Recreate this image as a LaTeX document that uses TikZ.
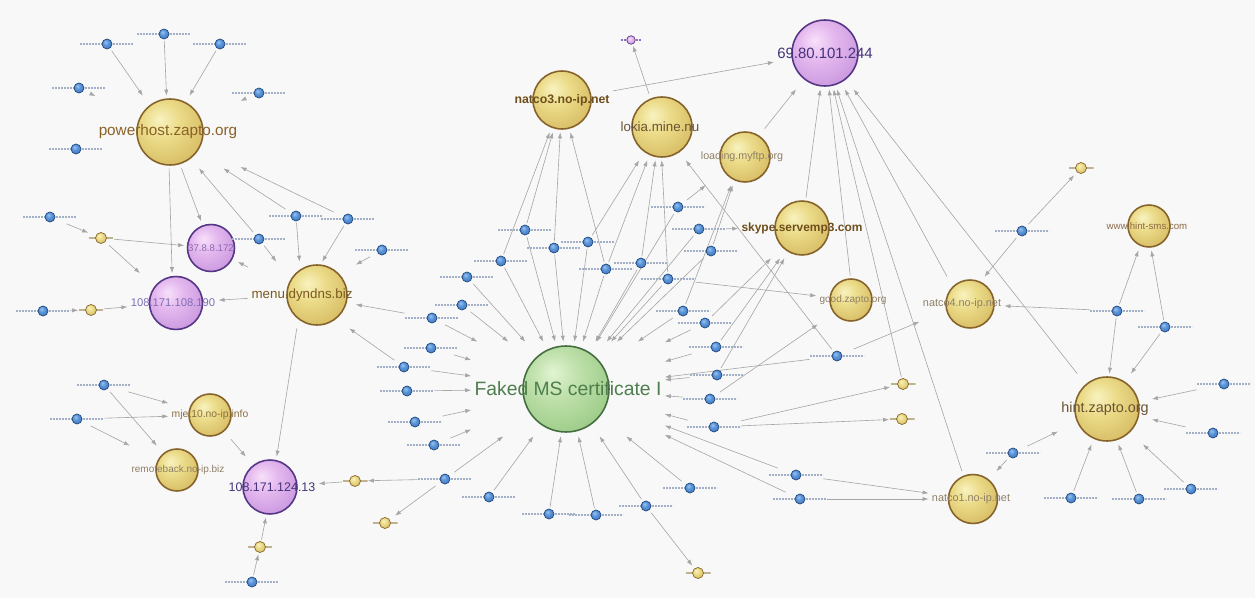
\documentclass[tikz,border=0pt]{standalone}
\usepackage{fontspec}
\setmainfont{Liberation Sans}
\usetikzlibrary{arrows.meta}

% colours
\definecolor{paper}{HTML}{F8F8F8}
\definecolor{edgegray}{HTML}{A6A6A6}
\definecolor{hostA}{HTML}{F8F2C0}
\definecolor{hostB}{HTML}{EBDB88}
\definecolor{hostC}{HTML}{D6BA62}
\definecolor{hostD}{HTML}{B8933E}
\definecolor{hostrim}{HTML}{86632A}
\definecolor{lilacA}{HTML}{F8E0FA}
\definecolor{lilacB}{HTML}{E4B8EE}
\definecolor{lilacC}{HTML}{C896DE}
\definecolor{lilacD}{HTML}{9E6CC2}
\definecolor{lilacrim}{HTML}{553686}
\definecolor{leafA}{HTML}{E2F4D2}
\definecolor{leafB}{HTML}{BEE0AA}
\definecolor{leafC}{HTML}{9ACA86}
\definecolor{leafD}{HTML}{70A25E}
\definecolor{leafrim}{HTML}{456E40}
\definecolor{skyA}{HTML}{9CC4F0}
\definecolor{skyB}{HTML}{5A94D8}
\definecolor{skyC}{HTML}{3C74BC}
\definecolor{skyD}{HTML}{2C5C9E}
\definecolor{skyrim}{HTML}{22497E}
\definecolor{tagblue}{HTML}{A4B0C8}
\definecolor{tagsand}{HTML}{C0B290}
\definecolor{tpower}{HTML}{8A6226}
\definecolor{tmenu}{HTML}{7A5A1E}
\definecolor{tdark}{HTML}{6E4E1C}
\definecolor{tlokia}{HTML}{6A5232}
\definecolor{tmjet}{HTML}{8A7040}
\definecolor{tpale}{HTML}{8F8068}
\definecolor{tsms}{HTML}{8C6A48}
\definecolor{tlilac}{HTML}{8A6AB0}
\definecolor{tlilacL}{HTML}{7F6FB5}
\definecolor{tlilacD}{HTML}{45337A}
\definecolor{tcert}{HTML}{4E7E4E}

\pgfdeclareradialshading{hostshade}{\pgfpoint{-8bp}{10bp}}{color(0bp)=(hostA); color(14bp)=(hostB); color(34bp)=(hostC); color(52bp)=(hostD); color(70bp)=(hostD)}
\pgfdeclareradialshading{lilacshade}{\pgfpoint{-8bp}{10bp}}{color(0bp)=(lilacA); color(14bp)=(lilacB); color(34bp)=(lilacC); color(52bp)=(lilacD); color(70bp)=(lilacD)}
\pgfdeclareradialshading{leafshade}{\pgfpoint{-8bp}{10bp}}{color(0bp)=(leafA); color(14bp)=(leafB); color(34bp)=(leafC); color(52bp)=(leafD); color(70bp)=(leafD)}
\pgfdeclareradialshading{skyshade}{\pgfpoint{-8bp}{10bp}}{color(0bp)=(skyA); color(14bp)=(skyB); color(34bp)=(skyC); color(52bp)=(skyD); color(70bp)=(skyD)}

\pgfdeclarelayer{background}
\pgfdeclarelayer{edges}
\pgfsetlayers{background,edges,main}

\newcommand{\fsz}[1]{\fontsize{#1}{#1}\selectfont}

\begin{document}
\begin{tikzpicture}[x=0.02cm, y=-0.02cm,
  link/.style={draw=edgegray, line width=0.35pt, -{Latex[length=3.4pt, width=2.4pt]}},
  hostball/.style={circle, inner sep=0pt, shading=hostshade, draw=hostrim, line width=0.9pt},
  ipball/.style={circle, inner sep=0pt, shading=lilacshade, draw=lilacrim, line width=0.9pt},
  certball/.style={circle, inner sep=0pt, shading=leafshade, draw=leafrim, line width=0.9pt},
  vbox/.style={rectangle, inner sep=0.06cm, minimum width=#1, minimum height=#1},
  tagline/.style={line width=0.75pt, dash pattern=on 1.2pt off 0.5pt},
  dotbox/.style={rectangle, inner sep=0pt, minimum width=1.08cm, minimum height=0.26cm,
    path picture={
      \draw[tagline, draw=tagblue] (path picture bounding box.west) -- (path picture bounding box.east);
      \shade[shading=skyshade, draw=skyrim, line width=0.4pt] (path picture bounding box.center) circle (0.1cm);
    }},
  sandbox/.style={rectangle, inner sep=0pt, minimum width=0.5cm, minimum height=0.28cm,
    path picture={
      \draw[tagline, draw=tagsand] (path picture bounding box.west) -- (path picture bounding box.east);
      \shade[shading=hostshade, draw=hostrim, line width=0.4pt] (path picture bounding box.center) circle (0.11cm);
    }},
  lilacbox/.style={rectangle, inner sep=0pt, minimum width=0.4cm, minimum height=0.22cm,
    path picture={
      \draw[tagline, draw=lilacD] (path picture bounding box.west) -- (path picture bounding box.east);
      \shade[shading=lilacshade, draw=lilacrim, line width=0.4pt] (path picture bounding box.center) circle (0.085cm);
    }}
  ]

  \begin{pgfonlayer}{background}
    \fill[paper] (0,0) rectangle (1255,598);
  \end{pgfonlayer}
  \useasboundingbox (0,0) rectangle (1255,598);

  % large vertices
  \node[hostball, minimum size=1.32cm,
    label={[vbox=1.44cm, name=powerhost, text=tpower, font=\fsz{8.7}, xshift=-0.04cm]center:powerhost.zapto.org}]
    (powerhost-ball) at (170,132) {};
  \node[ipball, minimum size=0.94cm,
    label={[vbox=1.06cm, name=ipA, text=tlilac, font=\fsz{5.5}]center:37.8.8.172}]
    (ipA-ball) at (211,248) {};
  \node[ipball, minimum size=1.06cm,
    label={[vbox=1.18cm, name=ipB, text=tlilacL, font=\fsz{6.4}, xshift=-0.06cm]center:108.171.108.190}]
    (ipB-ball) at (176,303) {};
  \node[hostball, minimum size=1.2cm,
    label={[vbox=1.32cm, name=menu, text=tmenu, font=\fsz{7.6}, xshift=-0.3cm]center:menu.dyndns.biz}]
    (menu-ball) at (317,295) {};
  \node[hostball, minimum size=0.84cm,
    label={[vbox=0.96cm, name=mjet, text=tmjet, font=\fsz{5.9}]center:mjet10.no-ip.info}]
    (mjet-ball) at (210,415) {};
  \node[hostball, minimum size=0.84cm,
    label={[vbox=0.96cm, name=remoteback, text=tpale, font=\fsz{5.7}, xshift=0.02cm]center:remoteback.no-ip.biz}]
    (remoteback-ball) at (177,470) {};
  \node[ipball, minimum size=1.08cm,
    label={[vbox=1.2cm, name=ipC, text=tlilacD, font=\fsz{7.1}, xshift=0.04cm]center:108.171.124.13}]
    (ipC-ball) at (270,487) {};
  \node[hostball, minimum size=1.16cm,
    label={[vbox=1.28cm, name=natcoC, text=tdark, font=\fsz{7.0}\bfseries]center:natco3.no-ip.net}]
    (natcoC-ball) at (562,100) {};
  \node[hostball, minimum size=1.2cm,
    label={[vbox=1.32cm, name=lokia, text=tlokia, font=\fsz{7.6}, xshift=-0.04cm]center:lokia.mine.nu}]
    (lokia-ball) at (662,127) {};
  \node[hostball, minimum size=1.0cm,
    label={[vbox=1.12cm, name=loading, text=tpale, font=\fsz{6.1}, xshift=-0.06cm]center:loading.myftp.org}]
    (loading-ball) at (745,157) {};
  \node[ipball, minimum size=1.32cm,
    label={[vbox=1.44cm, name=ipD, text=tlilacD, font=\fsz{8.5}]center:69.80.101.244}]
    (ipD-ball) at (825,53) {};
  \node[hostball, minimum size=1.08cm,
    label={[vbox=1.2cm, name=skype, text=tdark, font=\fsz{6.8}\bfseries]center:skype.servemp3.com}]
    (skype-ball) at (802,228) {};
  \node[hostball, minimum size=0.84cm,
    label={[vbox=0.96cm, name=good, text=tpale, font=\fsz{5.7}, xshift=0.04cm]center:good.zapto.org}]
    (good-ball) at (851,300) {};
  \node[hostball, minimum size=0.96cm,
    label={[vbox=1.08cm, name=natcoD, text=tpale, font=\fsz{6.2}, xshift=-0.16cm]center:natco4.no-ip.net}]
    (natcoD-ball) at (970,304) {};
  \node[hostball, minimum size=0.84cm,
    label={[vbox=0.96cm, name=hintsms, text=tsms, font=\fsz{5.5}, xshift=-0.04cm]center:www.hint-sms.com}]
    (hintsms-ball) at (1149,226) {};
  \node[hostball, minimum size=1.28cm,
    label={[vbox=1.4cm, name=hint, text=tlokia, font=\fsz{8.2}, xshift=-0.04cm]center:hint.zapto.org}]
    (hint-ball) at (1107,409) {};
  \node[hostball, minimum size=0.98cm,
    label={[vbox=1.1cm, name=natcoA, text=tpale, font=\fsz{6.2}, xshift=-0.04cm]center:natco1.no-ip.net}]
    (natcoA-ball) at (973,499) {};
  \node[certball, minimum size=1.72cm,
    label={[vbox=1.88cm, name=cert, text=tcert, font=\fsz{11}, xshift=0.04cm]center:Faked MS certificate I}]
    (cert-ball) at (566,389) {};

  % small vertices
  \foreach \n/\x/\y in {b1/107/44, b2/164/34, b3/220/44, b4/79/88, b5/259/93, b6/76/149,
      b7/50/217, b8/296/216, b9/348/219, b10/259/239, b11/382/250, b12/43/311, b13/104/385,
      b14/77/419, b15/252/582, b16/525/230, b17/554/248, b18/588/242, b19/501/261, b20/467/277,
      b21/606/269, b22/641/263, b23/678/207, b24/699/229, b25/711/251, b26/668/279, b27/462/305,
      b28/432/318, b29/431/348, b30/404/367, b31/407/391, b32/415/422, b33/434/445, b34/445/479,
      b35/489/497, b36/549/514, b37/596/515, b38/646/506, b39/690/488, b40/683/311, b41/705/323,
      b42/716/347, b43/717/375, b44/710/399, b45/714/427, b46/837/356, b47/796/475, b48/800/499,
      b49/1022/231, b50/1117/311, b51/1165/327, b52/1224/384, b53/1213/433, b54/1013/453,
      b55/1071/498, b56/1139/499, b57/1191/489}
    \node[dotbox] (\n) at (\x,\y) {};
  \foreach \n/\x/\y in {y1/101/238, y2/91/310, y3/355/481, y4/385/523, y5/260/547,
      y6/698/573, y7/903/384, y8/902/419, y9/1081/168}
    \node[sandbox] (\n) at (\x,\y) {};
  \node[lilacbox] (p1) at (631,40) {};

  % connectors
  \begin{pgfonlayer}{edges}
    \foreach \s/\t in {b1/powerhost, b2/powerhost, b3/powerhost, b4/powerhost, b5/powerhost,
        powerhost/ipB, powerhost/ipA, b10/powerhost, b10/menu, b8/powerhost, b8/menu,
        b9/powerhost, b9/menu, b11/menu, b7/y1, y1/ipA, y1/ipB, menu/ipA, menu/ipB,
        b12/y2, y2/ipB, menu/ipC, b13/mjet, b13/remoteback, b14/mjet, b14/remoteback,
        mjet/ipC, b15/y5, y5/ipC, y3/ipC, b34/y3, b34/y4, b28/menu, b30/menu}
      \draw[link] (\s) -- (\t);
    \foreach \s in {b16, b17, b18, b19, b20, b21, b22, b23, b24, b25, b26, b27, b28, b29,
        b30, b31, b32, b33, b34, b35, b36, b37, b38, b39, b40, b41, b42, b43, b44, b45,
        b46, b47, b48}
      \draw[link] (\s) -- (cert);
    \foreach \s/\t in {b16/natcoC, b17/natcoC, b21/natcoC, b19/natcoC,
        b18/lokia, b21/lokia, b22/lokia, b26/lokia, b46/lokia, lokia/p1,
        b23/loading, b25/loading, b40/loading, b41/skype, b42/skype, b43/skype, b24/skype,
        b26/good, b44/good, b45/y7, b45/y8, b38/y6,
        natcoC/ipD, loading/ipD, skype/ipD, good/ipD, y7/ipD, natcoA/ipD, natcoD/ipD, hint/ipD,
        b46/natcoD, b49/natcoD, b50/natcoD, b49/y9, b47/natcoA, b48/natcoA, b54/natcoA,
        b50/hintsms, b51/hintsms, b50/hint, b51/hint, b52/hint, b53/hint, b54/hint,
        b55/hint, b56/hint, b57/hint}
      \draw[link] (\s) -- (\t);
  \end{pgfonlayer}
\end{tikzpicture}
\end{document}
